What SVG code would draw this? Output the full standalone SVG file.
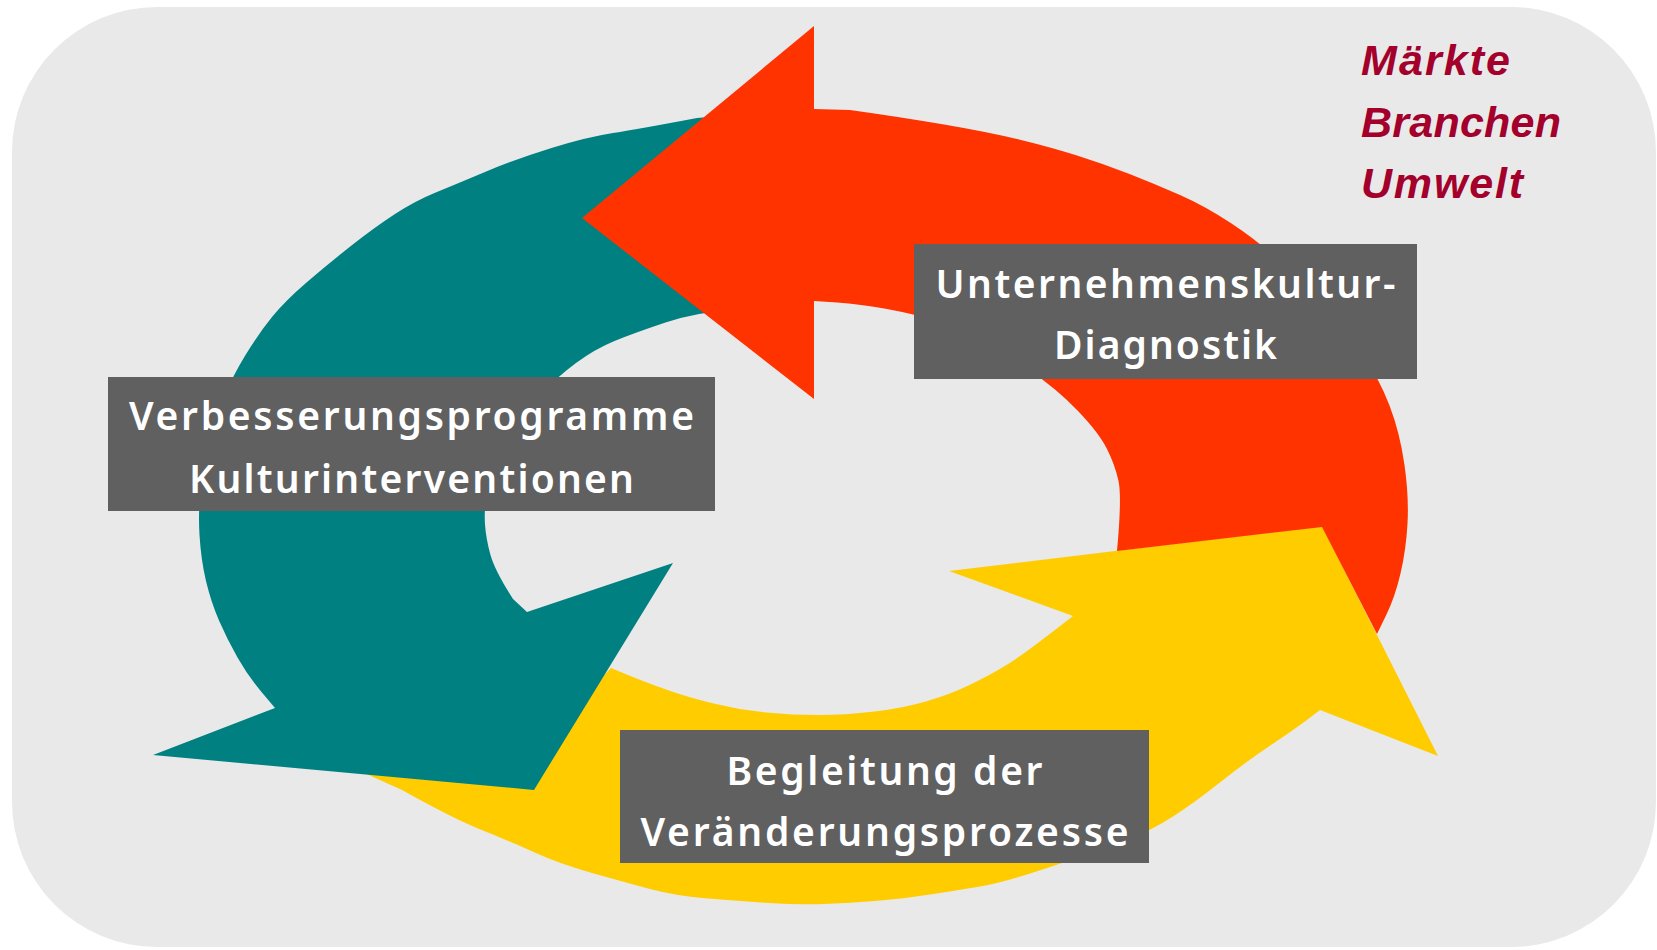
<svg xmlns="http://www.w3.org/2000/svg" width="1657" height="950" viewBox="0 0 1657 950">
  <style>
    .lbl { fill: #606060; }
    .lt { font-family: "Noto Sans", "DejaVu Sans", sans-serif; font-weight: 600; font-size: 39px; fill: #FFFFFF; text-anchor: middle; }
    .env { font-family: "Liberation Sans", Arial, sans-serif; font-weight: bold; font-style: italic; font-size: 43px; fill: #A3002B; }
  </style>
  <rect width="1657" height="950" fill="#FFFFFF"/>
  <rect id="background" x="12" y="7" width="1644" height="940" rx="145" ry="145" fill="#E9E9E9"/>

  <g id="connectors">
    <!-- yellow arrow (bottom) -->
    <path id="arrow-yellow" fill="#FFCC00" d="M540,770 L362,772 L402,790 Q454,819 480.5,829.5 Q507,840 533.5,852 Q560,864 592,873 Q624,882 650,889 Q676,896 708,898.5 Q740,901 769,903 Q798,905 824,904 Q850,903 875,901 Q900,899 930,894.5 Q960,890 980,886.5 Q1000,883 1030,873.5 Q1060,864 1085,855 Q1110,846 1131,838 Q1152,830 1173,816.5 Q1194,803 1220.5,782 Q1247,761 1271,745 Q1295,729 1307.5,719.5 L1320,710 L1438,756 L1322,526 L949,571 L1073,616 Q1046,637 1030.5,648.5 Q1015,660 1001.5,668 Q988,676 969.5,685 Q951,694 927.5,701 Q904,708 874.5,711.5 Q845,715 819,715 Q793,715 766.5,712.5 Q740,710 713.5,703.5 Q687,697 666,689.5 Q645,682 628,675 L611,668 L580,700 Z"/>
    <!-- teal arrow (left) -->
    <path id="arrow-teal" fill="#008080" d="M770,112 L697,118 Q639,129 613,133 Q587,137 551.5,148 Q516,159 485,172 Q454,185 434.5,193 Q415,201 395,214 Q375,227 351.5,245.5 Q328,264 306.5,282.5 Q285,301 272,317 Q259,333 245.5,355 Q232,377 223.5,398.5 Q215,420 209.5,442.5 Q204,465 201,487.5 Q198,510 199.5,535 Q201,560 206,581 Q211,602 219,620.5 Q227,639 237.5,657.5 Q248,676 261.5,692 L275,708 L153,755 L534,790 L673,563 L527,612 L513,599 Q495,571 490.5,555 Q486,539 485,524.5 Q484,510 487,487.5 Q490,465 502.5,442.5 Q515,420 536,398.5 Q557,377 576,363 Q595,349 614.5,341 Q634,333 665.5,322.5 Q697,312 733.5,310 L770,308 Z"/>
    <!-- red arrow (top right) -->
    <path id="arrow-red" fill="#FF3300" d="M814,109 L850,110 Q900,117 944,124.5 Q988,132 1019,139.5 Q1050,147 1077,155.5 Q1104,164 1129.5,174 Q1155,184 1180,195 Q1205,206 1231.5,223.5 Q1258,241 1279,260.5 Q1300,280 1322.5,305 Q1345,330 1362,354 Q1379,378 1389.5,405.5 Q1400,433 1404.5,465 Q1409,497 1407.5,523.5 Q1406,550 1400.5,573.5 Q1395,597 1386,615.5 L1377,634 L1322,527 L1117,551 Q1122,497 1118.5,481 Q1115,465 1107,449 Q1099,433 1078,411 Q1057,389 1028.5,369.5 Q1000,350 980,339 Q960,328 937,321 Q914,314 887,309 Q860,304 837,302.5 L814,301 L814,399 L582,218 L814,26 Z"/>
  </g>

  <g id="node-diagnostik">
    <rect class="lbl" x="914" y="244" width="503" height="135"/>
    <text class="lt" x="1165.5" y="298" textLength="460">Unternehmenskultur-</text>
    <text class="lt" x="1165.5" y="359" textLength="223">Diagnostik</text>
  </g>

  <g id="node-verbesserung">
    <rect class="lbl" x="108" y="377" width="607" height="134"/>
    <text class="lt" x="411.5" y="430" textLength="565">Verbesserungsprogramme</text>
    <text class="lt" x="411.5" y="493" textLength="445">Kulturinterventionen</text>
  </g>

  <g id="node-begleitung">
    <rect class="lbl" x="620" y="730" width="529" height="133"/>
    <text class="lt" x="884.5" y="785" textLength="316">Begleitung der</text>
    <text class="lt" x="884.5" y="846" textLength="488">Veränderungsprozesse</text>
  </g>

  <g id="node-umwelt">
    <text class="env" x="1361" y="75" textLength="149">Märkte</text>
    <text class="env" x="1361" y="137" textLength="200">Branchen</text>
    <text class="env" x="1361" y="198" textLength="162">Umwelt</text>
  </g>
</svg>
